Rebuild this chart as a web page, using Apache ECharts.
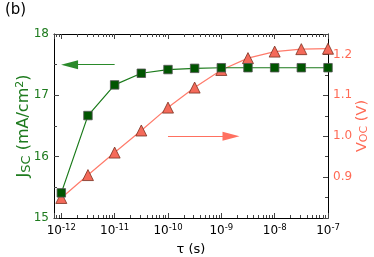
<!DOCTYPE html>
<html><head><meta charset="utf-8">
<script src="https://cdn.jsdelivr.net/npm/echarts@6/dist/echarts.min.js"></script>
<style>html,body{margin:0;padding:0;background:#fff}#c{width:374px;height:257px}</style>
</head><body><div id="c"></div>
<script>
const tau = [1e-12, 3.16e-12, 1e-11, 3.16e-11, 1e-10, 3.16e-10, 1e-9, 3.16e-9, 1e-8, 3.16e-8, 1e-7];
const jsc = [15.41, 16.67, 17.17, 17.36, 17.42, 17.44, 17.45, 17.45, 17.45, 17.45, 17.45];
const voc = [0.849, 0.905, 0.960, 1.014, 1.070, 1.119, 1.162, 1.191, 1.207, 1.213, 1.214];
const xTickExp = [-12, -11, -10, -9, -8, -7];

const green = '#1e7b1e', red = '#ff6a55';
const font = 'DejaVu Sans';
const tickColor = '#444';
const chart = echarts.init(document.getElementById('c'), null, {renderer: 'canvas'});
const supFmt = v => { const e = Math.round(Math.log10(v)); return xTickExp.includes(e) ? '10{s|' + e + '}' : ''; };
chart.setOption({
  animation: false,
  textStyle: {fontFamily: font},
  graphic: [{type: 'text', left: 5, top: 3, style: {text: '(b)', font: '15px ' + font, fill: '#000'}}],
  grid: {left: 54, right: 46, top: 34, bottom: 39, outerBoundsMode: 'none', containLabel: false},
  xAxis: [{
    type: 'log', min: Math.pow(10, -12.137), max: 1e-7, logBase: 10,
    name: 'τ (s)', nameLocation: 'middle', nameGap: 25,
    nameTextStyle: {fontSize: 13, color: '#000', fontFamily: font},
    axisLine: {lineStyle: {color: '#000', width: 1}},
    axisTick: {inside: true, length: 5, lineStyle: {color: tickColor}},
    minorTick: {show: true, splitNumber: 9, length: 3, lineStyle: {color: tickColor}},
    splitLine: {show: false},
    axisLabel: {formatter: supFmt, color: '#000', fontSize: 12, margin: 5, fontFamily: font,
      rich: {s: {fontSize: 8.5, fontFamily: font, verticalAlign: 'top', padding: [0, 0, 7, 0], color: '#000'}}}
  }, {
    type: 'log', position: 'top', min: Math.pow(10, -12.137), max: 1e-7, logBase: 10,
    axisLine: {lineStyle: {color: '#000', width: 1}},
    axisTick: {inside: true, length: 5, lineStyle: {color: tickColor}},
    minorTick: {show: true, splitNumber: 9, length: 3, lineStyle: {color: tickColor}},
    splitLine: {show: false}, axisLabel: {show: false}
  }],
  yAxis: [{
    type: 'value', min: 15, max: 18, interval: 1, position: 'left',
    name: 'J{sub|SC} (mA/cm{sup|2})', nameLocation: 'middle', nameGap: 21, nameRotate: 90,
    nameMoveOverlap: false,
    nameTextStyle: {fontSize: 16, color: green, fontFamily: font,
      rich: {sub: {fontSize: 13, fontFamily: font, color: green, verticalAlign: 'bottom', padding: [5, 0, 0, 0]},
             sup: {fontSize: 11, fontFamily: font, color: green, verticalAlign: 'top', padding: [0, 0, 7, 0]}}},
    axisLine: {show: true, lineStyle: {color: '#000'}},
    axisTick: {inside: true, length: 5, lineStyle: {color: tickColor}},
    minorTick: {show: true, splitNumber: 2, length: 3, lineStyle: {color: tickColor}},
    splitLine: {show: false},
    axisLabel: {color: green, fontSize: 12, margin: 5, fontFamily: font}
  }, {
    type: 'value', min: 0.8, max: 1.25, interval: 0.1, position: 'right',
    name: 'V{sub|OC} (V)', nameLocation: 'middle', nameGap: 26, nameRotate: 90,
    nameMoveOverlap: false,
    nameTextStyle: {fontSize: 14.5, color: red, fontFamily: font,
      rich: {sub: {fontSize: 11, fontFamily: font, color: red, verticalAlign: 'bottom', padding: [5, 0, 0, 0]}}},
    axisLine: {show: true, lineStyle: {color: '#000'}},
    axisTick: {inside: true, length: 5, lineStyle: {color: tickColor}},
    minorTick: {show: true, splitNumber: 2, length: 3, lineStyle: {color: tickColor}},
    splitLine: {show: false},
    axisLabel: {color: red, fontSize: 12, margin: 5, fontFamily: font, showMinLabel: false, showMaxLabel: false,
      formatter: v => v.toFixed(1)}
  }],
  series: [{
    type: 'line', xAxisIndex: 0, yAxisIndex: 1, data: tau.map((t, i) => [t, voc[i]]),
    symbol: 'triangle', symbolSize: 11,
    lineStyle: {color: '#ff7b6b', width: 1.2},
    itemStyle: {color: '#f46a5a', borderColor: '#7a3020', borderWidth: 0.8},
    z: 2,
    markLine: {silent: true, symbol: ['none', 'triangle'], symbolSize: [9, 17],
      lineStyle: {color: '#ff7060', width: 1.2, type: 'solid'}, label: {show: false},
      data: [[{coord: [1e-10, 1.0]}, {coord: [1.52e-9, 1.0]}]]}
  }, {
    type: 'line', xAxisIndex: 0, yAxisIndex: 0, data: tau.map((t, i) => [t, jsc[i]]),
    symbol: 'rect', symbolSize: 8.5,
    lineStyle: {color: '#1a7a1a', width: 1.2},
    itemStyle: {color: '#005500', borderColor: '#555', borderWidth: 0.8},
    z: 3,
    markLine: {silent: true, symbol: ['none', 'triangle'], symbolSize: [9, 17],
      lineStyle: {color: '#2a8a2a', width: 1.2, type: 'solid'}, label: {show: false},
      data: [[{coord: [1e-11, 17.5]}, {coord: [1.43e-12, 17.5]}]]}
  }]
});
</script></body></html>
